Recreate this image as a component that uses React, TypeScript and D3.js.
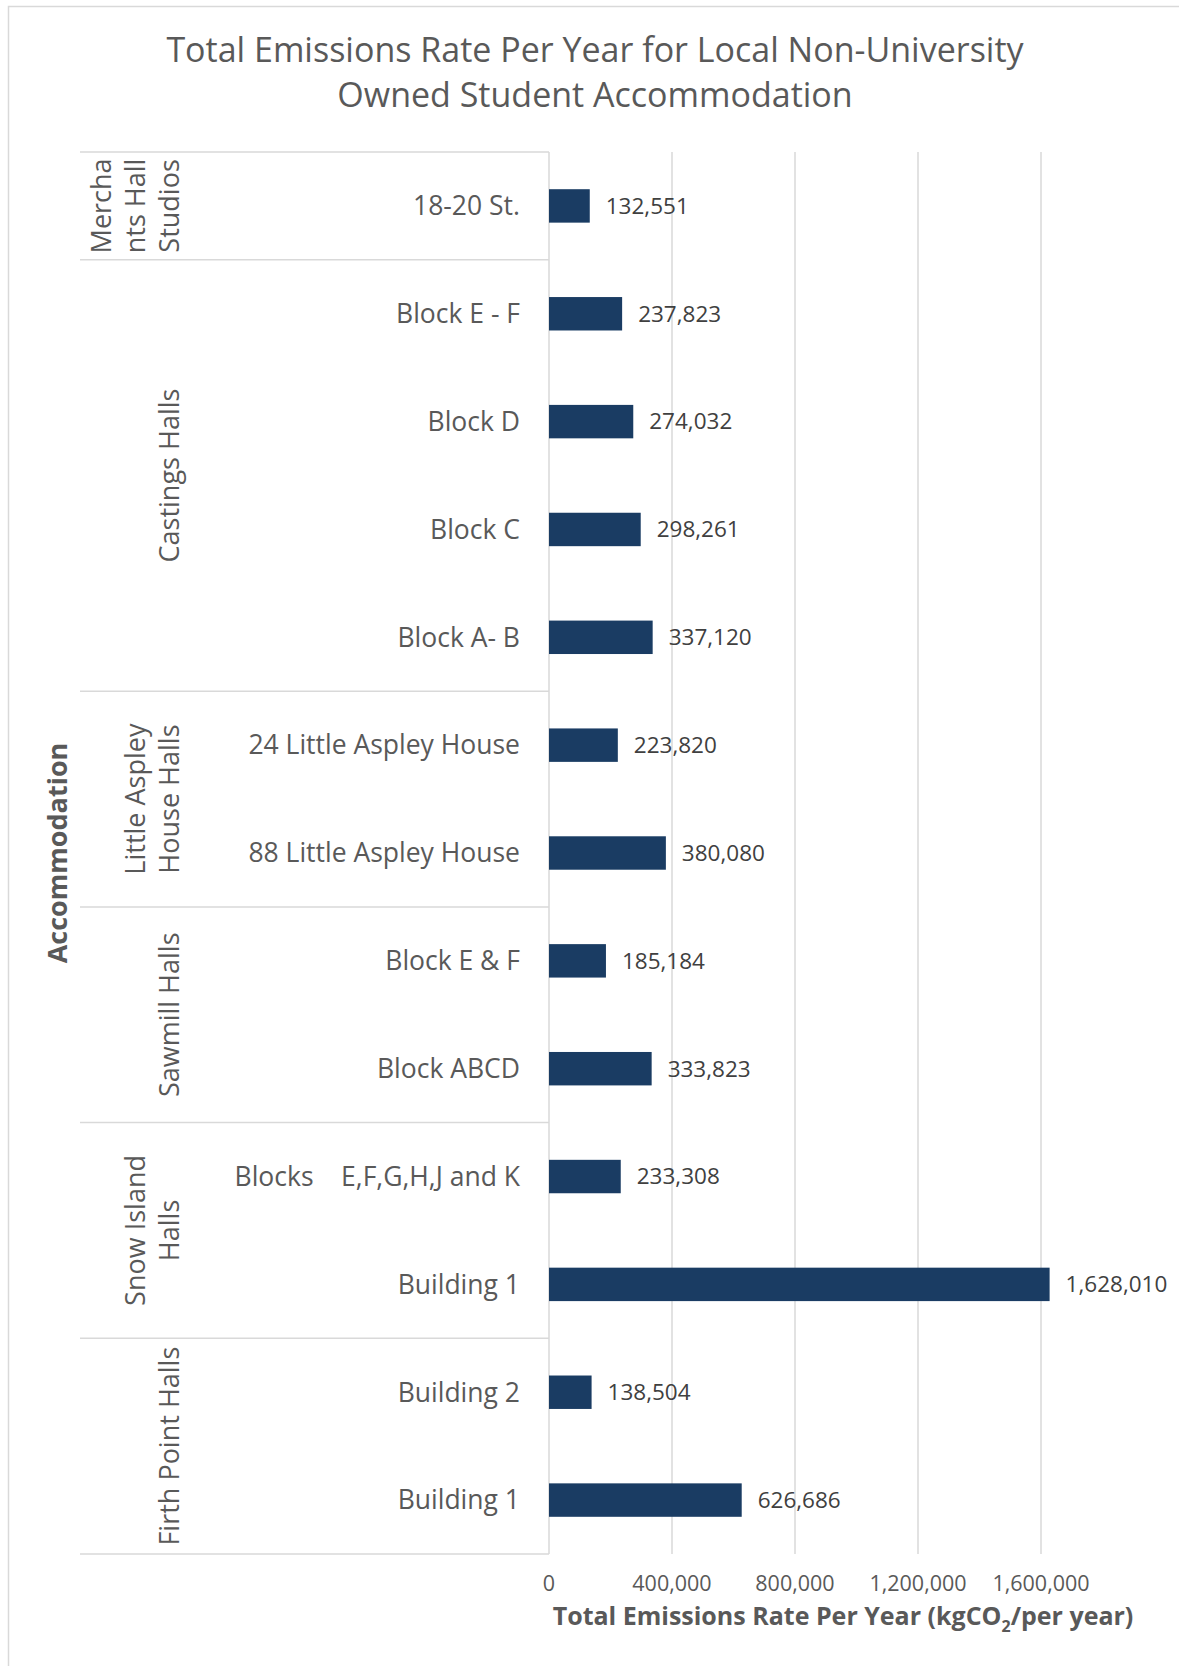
import React, { useRef, useEffect } from "react";
import * as d3 from "d3";

// Chart data, top to bottom as drawn
const groups = [
  "Merchants Hall Studios",
  "Castings Halls",
  "Little Aspley House Halls",
  "Sawmill Halls",
  "Snow Island Halls",
  "Firth Point Halls",
];
const groupLines = [
  ["Mercha", "nts Hall", "Studios"],
  ["Castings Halls"],
  ["Little Aspley", "House Halls"],
  ["Sawmill Halls"],
  ["Snow Island", "Halls"],
  ["Firth Point Halls"],
];
const categories = [
  "18-20 St.",
  "Block E - F",
  "Block D",
  "Block C",
  "Block A- B",
  "24 Little Aspley House",
  "88 Little Aspley House",
  "Block E & F",
  "Block ABCD",
  "Blocks    E,F,G,H,J and K",
  "Building 1",
  "Building 2",
  "Building 1",
];
const categoryGroup = [0, 1, 1, 1, 1, 2, 2, 3, 3, 4, 4, 5, 5];
const values = [
  132551, 237823, 274032, 298261, 337120, 223820, 380080, 185184, 333823,
  233308, 1628010, 138504, 626686,
];
const xTicks = [0, 400000, 800000, 1200000, 1600000];

const W = 1179;
const H = 1666;
const FONT = "'Open Sans', 'Liberation Sans', sans-serif";
const TEXT = "#595959";
const GRID = "#d9d9d9";

const App = () => {
  const svgRef = useRef<SVGSVGElement | null>(null);

  useEffect(() => {
    document.body.style.margin = "0";
    const svg = d3.select(svgRef.current);
    svg.selectAll("*").remove();

    const top = 152;
    const bottom = 1554;
    const x0 = 549;
    const x = d3.scaleLinear().domain([0, 2000000]).range([x0, 1164]);
    const idx = d3.range(categories.length).map(String);
    const y = d3
      .scaleBand<string>()
      .domain(idx)
      .range([top, bottom])
      .paddingInner(0.69)
      .paddingOuter(0.345);
    const step = y.step();

    // chart frame
    svg
      .append("rect")
      .attr("x", 8.5)
      .attr("y", 6.5)
      .attr("width", W)
      .attr("height", H)
      .attr("fill", "white")
      .attr("stroke", GRID)
      .attr("stroke-width", 1.5);

    // title
    const title = svg
      .append("text")
      .attr("x", 595)
      .attr("text-anchor", "middle")
      .attr("font-family", FONT)
      .attr("font-size", 34)
      .attr("fill", TEXT);
    title.append("tspan").attr("x", 595).attr("y", 62).text("Total Emissions Rate Per Year for Local Non-University");
    title.append("tspan").attr("x", 595).attr("y", 107).text("Owned Student Accommodation");

    // vertical gridlines
    svg
      .append("g")
      .selectAll("line")
      .data(xTicks.slice(1))
      .enter()
      .append("line")
      .attr("x1", (d) => x(d))
      .attr("x2", (d) => x(d))
      .attr("y1", top)
      .attr("y2", bottom)
      .attr("stroke", GRID)
      .attr("stroke-width", 1.5);

    // group boundaries
    const bounds: number[] = [];
    groups.forEach((g, gi) => {
      const first = categoryGroup.indexOf(gi);
      const last = categoryGroup.lastIndexOf(gi);
      bounds.push(top + first * step);
      if (gi === groups.length - 1) bounds.push(top + (last + 1) * step);
    });
    svg
      .append("g")
      .selectAll("line")
      .data(bounds)
      .enter()
      .append("line")
      .attr("x1", 80)
      .attr("x2", x0)
      .attr("y1", (d) => d)
      .attr("y2", (d) => d)
      .attr("stroke", GRID)
      .attr("stroke-width", 1.5);

    // axis line
    svg
      .append("line")
      .attr("x1", x0)
      .attr("x2", x0)
      .attr("y1", top)
      .attr("y2", bottom)
      .attr("stroke", GRID)
      .attr("stroke-width", 1.5);

    // bars
    svg
      .append("g")
      .selectAll("rect")
      .data(values)
      .enter()
      .append("rect")
      .attr("x", x0)
      .attr("y", (d, i) => y(String(i)) as number)
      .attr("width", (d) => x(d) - x0)
      .attr("height", y.bandwidth())
      .attr("fill", "#1a3c63");

    // value labels
    svg
      .append("g")
      .selectAll("text")
      .data(values)
      .enter()
      .append("text")
      .attr("x", (d) => x(d) + 16)
      .attr("y", (d, i) => (y(String(i)) as number) + y.bandwidth() / 2)
      .attr("dy", "0.35em")
      .attr("font-family", FONT)
      .attr("font-size", 22.5)
      .attr("fill", "#404040")
      .text((d) => d3.format(",")(d));

    // category labels
    svg
      .append("g")
      .selectAll("text")
      .data(categories)
      .enter()
      .append("text")
      .attr("x", 520)
      .attr("y", (d, i) => (y(String(i)) as number) + y.bandwidth() / 2)
      .attr("dy", "0.35em")
      .attr("text-anchor", "end")
      .attr("font-family", FONT)
      .attr("font-size", 26.5)
      .attr("fill", TEXT)
      .style("white-space", "pre")
      .text((d) => d);

    // group labels (rotated)
    groupLines.forEach((lines, gi) => {
      const first = categoryGroup.indexOf(gi);
      const last = categoryGroup.lastIndexOf(gi);
      const cy = top + ((first + last + 1) / 2) * step;
      lines.forEach((ln, li) => {
        const cx = 170 - (lines.length - 1 - li) * 34;
        svg
          .append("text")
          .attr("transform", `translate(${cx},${cy}) rotate(-90)`)
          .attr("text-anchor", "middle")
          .attr("dy", "0.35em")
          .attr("font-family", FONT)
          .attr("font-size", 27)
          .attr("fill", TEXT)
          .text(ln);
      });
    });

    // x tick labels
    svg
      .append("g")
      .selectAll("text")
      .data(xTicks)
      .enter()
      .append("text")
      .attr("x", (d) => x(d))
      .attr("y", 1583)
      .attr("dy", "0.35em")
      .attr("text-anchor", "middle")
      .attr("font-family", FONT)
      .attr("font-size", 21.5)
      .attr("fill", TEXT)
      .text((d) => d3.format(",")(d));

    // x axis title
    const xt = svg
      .append("text")
      .attr("x", 843)
      .attr("y", 1625)
      .attr("text-anchor", "middle")
      .attr("font-family", FONT)
      .attr("font-size", 25)
      .attr("font-weight", "bold")
      .attr("fill", TEXT);
    xt.append("tspan").text("Total Emissions Rate Per Year (kgCO");
    xt.append("tspan").attr("font-size", 16).attr("dy", 7).text("2");
    xt.append("tspan").attr("dy", -7).text("/per year)");

    // y axis title
    svg
      .append("text")
      .attr("transform", `translate(58,853) rotate(-90)`)
      .attr("text-anchor", "middle")
      .attr("dy", "0.35em")
      .attr("font-family", FONT)
      .attr("font-size", 27)
      .attr("font-weight", "bold")
      .attr("fill", TEXT)
      .text("Accommodation");
  }, []);

  return <svg ref={svgRef} width={W} height={H} style={{ display: "block" }}></svg>;
};

export default App;
